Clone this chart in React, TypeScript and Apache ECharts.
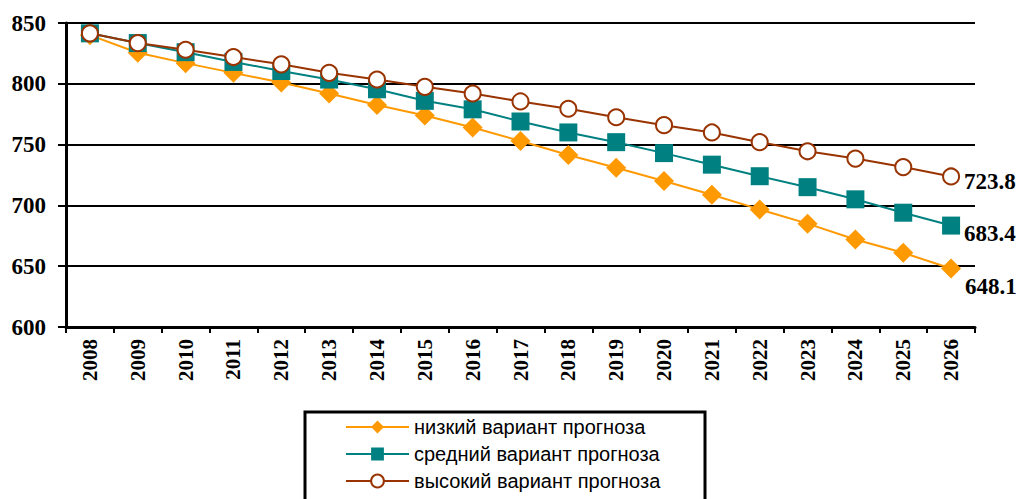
import React, { useEffect, useRef } from "react";
import * as echarts from "echarts";

const years = ["2008","2009","2010","2011","2012","2013","2014","2015","2016","2017","2018","2019","2020","2021","2022","2023","2024","2025","2026"];
const lowValues = [840, 825.5, 817, 809, 801, 792, 782.5, 774, 764, 753, 741.5, 731, 720, 708.7, 696.7, 685, 672, 661, 648.1];
const midValues = [841.5, 833.5, 826, 818, 810.5, 803.5, 795.5, 786, 779, 769, 760, 752, 743, 733.5, 724, 715, 705, 694, 683.4];
const highValues = [841.5, 833.5, 828, 822, 816, 809, 803.5, 797.5, 792, 785.5, 779.5, 772.5, 766, 760, 752, 744.5, 738.5, 731.5, 723.8];
const seriesNames = ["низкий вариант прогноза", "средний вариант прогноза", "высокий вариант прогноза"];
const yTicks = { min: 600, max: 850, interval: 50 };

function withEndLabel(values: number[], offsetY: number) {
  return values.map((v, i) =>
    i === values.length - 1
      ? {
          value: v,
          label: {
            show: true,
            position: "right",
            distance: 4,
            offset: [0, offsetY],
            formatter: String(v),
            fontFamily: "Liberation Serif",
            fontWeight: "bold",
            fontSize: 23,
            color: "#000",
          },
        }
      : v
  );
}

export default function App() {
  const ref = useRef<HTMLDivElement>(null);
  useEffect(() => {
    const chart = echarts.init(ref.current!, null, { renderer: "svg" });
    const serif = "Liberation Serif";
    chart.setOption({
      animation: false,
      backgroundColor: "#fff",
      grid: { left: 66, right: 51, top: 23, bottom: 172, containLabel: false },
      xAxis: {
        type: "category",
        data: years,
        boundaryGap: true,
        axisLine: { lineStyle: { color: "#000", width: 3 } },
        axisTick: { show: true, length: 6, lineStyle: { color: "#000", width: 2 } },
        axisLabel: {
          rotate: 90,
          margin: 12,
          fontFamily: serif,
          fontWeight: "bold",
          fontSize: 21,
          color: "#000",
        },
        splitLine: { show: false },
      },
      yAxis: {
        type: "value",
        min: yTicks.min,
        max: yTicks.max,
        interval: yTicks.interval,
        axisLine: { show: true, lineStyle: { color: "#000", width: 3 } },
        axisTick: { show: true, length: 8, lineStyle: { color: "#000", width: 2 } },
        axisLabel: {
          margin: 20,
          fontFamily: serif,
          fontWeight: "bold",
          fontSize: 23,
          color: "#000",
        },
        splitLine: { show: true, lineStyle: { color: "#000", width: 2 } },
      },
      legend: {
        orient: "vertical",
        left: 345,
        top: 417,
        height: 120,
        padding: 0,
        itemWidth: 63,
        itemHeight: 16,
        itemGap: 7,
        textStyle: { fontFamily: "Liberation Sans", fontSize: 20, color: "#000" },
        data: seriesNames,
      },
      graphic: [
        {
          type: "rect",
          shape: { x: 305, y: 412, width: 400, height: 100 },
          style: { fill: "none", stroke: "#000", lineWidth: 3 },
          silent: true,
        },
      ],
      series: [
        {
          name: seriesNames[0],
          type: "line",
          data: withEndLabel(lowValues, 18),
          symbol: "diamond",
          symbolSize: 20,
          itemStyle: { color: "#FF9900" },
          lineStyle: { color: "#FF9900", width: 2 },
          z: 2,
        },
        {
          name: seriesNames[1],
          type: "line",
          data: withEndLabel(midValues, 8),
          symbol: "rect",
          symbolSize: 18,
          itemStyle: { color: "#008080" },
          lineStyle: { color: "#008080", width: 2 },
          z: 3,
        },
        {
          name: seriesNames[2],
          type: "line",
          data: withEndLabel(highValues, 5),
          symbol: "circle",
          symbolSize: 16,
          showAllSymbol: true,
          itemStyle: { color: "#fff", borderColor: "#993300", borderWidth: 2 },
          lineStyle: { color: "#993300", width: 2 },
          z: 4,
        },
      ],
    });
    return () => chart.dispose();
  }, []);
  return (
    <div
      ref={ref}
      style={{ position: "fixed", left: 0, top: 0, width: 1026, height: 499 }}
    />
  );
}
